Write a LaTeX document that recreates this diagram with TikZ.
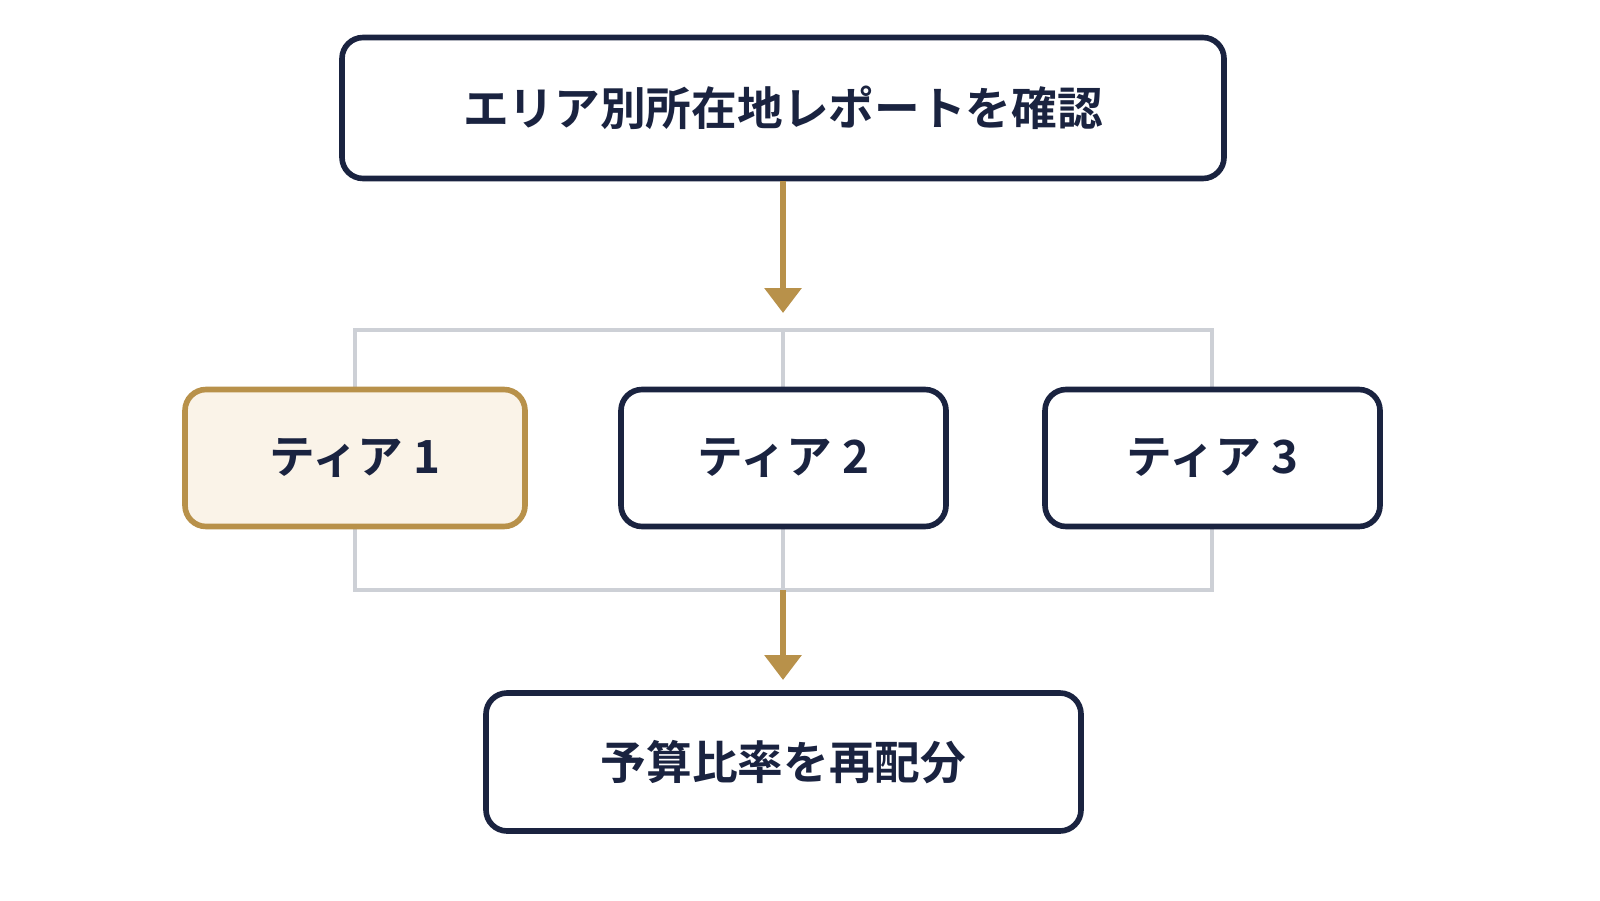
\documentclass[tikz,border=0pt]{standalone}
\usepackage{fontspec}
\setmainfont{Noto Sans CJK JP}[BoldFont={Noto Sans CJK JP Bold}]
\usetikzlibrary{arrows.meta}
\definecolor{navy}{HTML}{1A2340}
\definecolor{gold}{HTML}{B8914A}
\definecolor{cream}{HTML}{FAF3E8}
\definecolor{frame}{HTML}{CDD0D6}
\begin{document}
\begin{tikzpicture}[
	box/.style={draw=navy, line width=1.6pt, rounded corners=6pt, fill=white,
	  font=\bfseries\fontsize{13}{15}\selectfont, text=navy},
	tier box/.style={box, minimum height=1.37cm},
	hot box/.style={tier box, draw=gold, fill=cream},
	flow/.style={draw=gold, line width=1.8pt, -{Triangle[length=0.25cm, width=0.36cm]}}]
	\useasboundingbox[fill=white] (0,0) rectangle (16,9);
	% frame behind the tiers
	\draw[frame, line width=1.3pt] (3.55,5.70) rectangle (12.12,3.10);
	\draw[frame, line width=1.3pt] (7.83,5.70) -- (7.83,3.10);
	\node[box, minimum width=8.82cm, minimum height=1.41cm] (report) at (7.83,7.92) {エリア別所在地レポートを確認};
	\node[hot box, minimum width=3.40cm] (tier1) at (3.55,4.42) {ティア 1};
	\node[tier box, minimum width=3.25cm] (tier2) at (7.835,4.42) {ティア 2};
	\node[tier box, minimum width=3.35cm] (tier3) at (12.125,4.42) {ティア 3};
	\node[box, minimum width=5.95cm, minimum height=1.38cm] (budget) at (7.835,1.38) {予算比率を再配分};
	\coordinate (in) at (7.83,5.87);
	\coordinate (out) at (7.83,3.10);
	\coordinate (down) at (7.83,2.20);
	\draw[flow] (report) -- (in);
	\draw[flow] (out) -- (down);
\end{tikzpicture}
\end{document}
